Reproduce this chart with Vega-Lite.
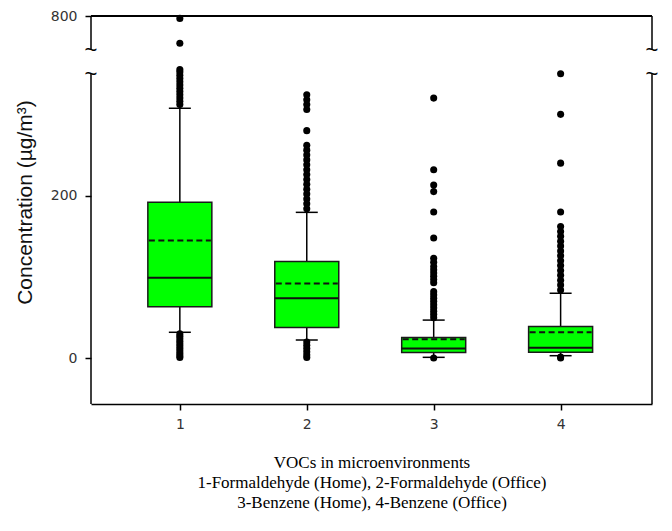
{
  "$schema": "https://vega.github.io/schema/vega-lite/v6.json",
  "width": 561,
  "height": 388,
  "padding": {"left": 14, "top": 9, "right": 10, "bottom": 10},
  "background": "white",
  "config": {"view": {"stroke": null}},
  "datasets": {
    "boxes": [
      {"g": 1, "lo": 32, "q1": 63.5, "med": 99, "mean": 145, "q3": 192, "hi": 307.5},
      {"g": 2, "lo": 22.5, "q1": 38, "med": 74, "mean": 92, "q3": 119, "hi": 179.5},
      {"g": 3, "lo": 1.2, "q1": 7, "med": 12, "mean": 23.5, "q3": 25.5, "hi": 47},
      {"g": 4, "lo": 3.2, "q1": 7.5, "med": 13, "mean": 32, "q3": 39, "hi": 80}
    ],
    "outliers": [
      {"g": 1, "v": 312}, {"g": 1, "v": 316}, {"g": 1, "v": 320}, {"g": 1, "v": 324}, {"g": 1, "v": 328}, {"g": 1, "v": 332}, {"g": 1, "v": 336}, {"g": 1, "v": 340}, {"g": 1, "v": 344}, {"g": 1, "v": 348}, {"g": 1, "v": 352}, {"g": 1, "v": 355}, {"g": 1, "v": 720}, {"g": 1, "v": 793},
      {"g": 1, "v": 30}, {"g": 1, "v": 27}, {"g": 1, "v": 24}, {"g": 1, "v": 21}, {"g": 1, "v": 18}, {"g": 1, "v": 15}, {"g": 1, "v": 12}, {"g": 1, "v": 9}, {"g": 1, "v": 6}, {"g": 1, "v": 3}, {"g": 1, "v": 1},
      {"g": 2, "v": 184}, {"g": 2, "v": 190}, {"g": 2, "v": 196}, {"g": 2, "v": 202}, {"g": 2, "v": 208}, {"g": 2, "v": 214}, {"g": 2, "v": 220}, {"g": 2, "v": 226}, {"g": 2, "v": 232}, {"g": 2, "v": 238}, {"g": 2, "v": 244}, {"g": 2, "v": 250}, {"g": 2, "v": 256}, {"g": 2, "v": 262}, {"g": 2, "v": 280}, {"g": 2, "v": 306}, {"g": 2, "v": 312}, {"g": 2, "v": 318}, {"g": 2, "v": 324},
      {"g": 2, "v": 20}, {"g": 2, "v": 16}, {"g": 2, "v": 12}, {"g": 2, "v": 8}, {"g": 2, "v": 4}, {"g": 2, "v": 1},
      {"g": 3, "v": 50}, {"g": 3, "v": 54}, {"g": 3, "v": 58}, {"g": 3, "v": 62}, {"g": 3, "v": 66}, {"g": 3, "v": 70}, {"g": 3, "v": 74}, {"g": 3, "v": 78}, {"g": 3, "v": 82},
      {"g": 3, "v": 93}, {"g": 3, "v": 97}, {"g": 3, "v": 101}, {"g": 3, "v": 105}, {"g": 3, "v": 109}, {"g": 3, "v": 113}, {"g": 3, "v": 118}, {"g": 3, "v": 123},
      {"g": 3, "v": 148}, {"g": 3, "v": 180}, {"g": 3, "v": 205}, {"g": 3, "v": 213}, {"g": 3, "v": 232}, {"g": 3, "v": 320}, {"g": 3, "v": 0.3},
      {"g": 4, "v": 84}, {"g": 4, "v": 90}, {"g": 4, "v": 96}, {"g": 4, "v": 102}, {"g": 4, "v": 108}, {"g": 4, "v": 114}, {"g": 4, "v": 120}, {"g": 4, "v": 126}, {"g": 4, "v": 132}, {"g": 4, "v": 138}, {"g": 4, "v": 144}, {"g": 4, "v": 150}, {"g": 4, "v": 156}, {"g": 4, "v": 162},
      {"g": 4, "v": 180}, {"g": 4, "v": 240}, {"g": 4, "v": 300}, {"g": 4, "v": 350}, {"g": 4, "v": 1.5}, {"g": 4, "v": 0.5}
    ]
  },
  "layer": [
    {
      "data": {"name": "boxes"},
      "mark": {"type": "rule", "stroke": "#000", "strokeWidth": 1.5},
      "encoding": {
        "x": {"field": "g", "type": "quantitative",
          "scale": {"domain": [0.3, 4.72], "nice": false, "zero": false},
          "axis": {
            "values": [1, 2, 3, 4], "format": "d", "grid": false, "labelAngle": 0,
            "title": ["VOCs in microenvironments", "1-Formaldehyde (Home), 2-Formaldehyde (Office)", "3-Benzene (Home), 4-Benzene (Office)"],
            "titleFont": "Liberation Serif", "titleFontSize": 17, "titleFontWeight": "normal", "titleColor": "#000",
            "titleLineHeight": 20, "titleBaseline": "top", "titleY": 50,
            "labelFont": "DejaVu Sans", "labelFontSize": 14, "labelColor": "#333", "labelPadding": 7,
            "tickSize": 6, "tickWidth": 1.5, "tickColor": "#000", "domainColor": "#000", "domainWidth": 1.5
          }
        },
        "y": {"field": "lo", "type": "quantitative",
          "scale": {"domain": [-56.2, 355.8, 700, 800], "range": [388, 53, 34, 0], "nice": false, "zero": false},
          "axis": {
            "values": [0, 200, 800], "domain": false, "grid": false,
            "title": "Concentration (µg/m³)", "titleFont": "Liberation Sans", "titleFontSize": 21, "titleFontWeight": "normal", "titleColor": "#111",
            "titleX": -60, "titleY": 186, "titleBaseline": "alphabetic", "titleAlign": "center",
            "labelFont": "DejaVu Sans", "labelFontSize": 14, "labelColor": "#333", "labelPadding": 8,
            "tickSize": 6, "tickWidth": 1.5, "tickColor": "#000"
          }
        },
        "y2": {"field": "q1"}
      }
    },
    {
      "data": {"name": "boxes"},
      "mark": {"type": "rule", "stroke": "#000", "strokeWidth": 1.5},
      "encoding": {
        "x": {"field": "g", "type": "quantitative"},
        "y": {"field": "q3", "type": "quantitative"},
        "y2": {"field": "hi"}
      }
    },
    {
      "data": {"name": "boxes"},
      "mark": {"type": "rule", "stroke": "#000", "strokeWidth": 1.5, "xOffset": -11, "x2Offset": 11},
      "encoding": {
        "x": {"field": "g", "type": "quantitative"},
        "x2": {"field": "g"},
        "y": {"field": "lo", "type": "quantitative"}
      }
    },
    {
      "data": {"name": "boxes"},
      "mark": {"type": "rule", "stroke": "#000", "strokeWidth": 1.5, "xOffset": -11, "x2Offset": 11},
      "encoding": {
        "x": {"field": "g", "type": "quantitative"},
        "x2": {"field": "g"},
        "y": {"field": "hi", "type": "quantitative"}
      }
    },
    {
      "data": {"name": "boxes"},
      "mark": {"type": "rect", "fill": "#00ff00", "stroke": "#1a1a1a", "strokeWidth": 1.5, "xOffset": -32, "x2Offset": 32},
      "encoding": {
        "x": {"field": "g", "type": "quantitative"},
        "x2": {"field": "g"},
        "y": {"field": "q1", "type": "quantitative"},
        "y2": {"field": "q3"}
      }
    },
    {
      "data": {"name": "boxes"},
      "mark": {"type": "rule", "stroke": "#111", "strokeWidth": 2, "xOffset": -32, "x2Offset": 32},
      "encoding": {
        "x": {"field": "g", "type": "quantitative"},
        "x2": {"field": "g"},
        "y": {"field": "med", "type": "quantitative"}
      }
    },
    {
      "data": {"name": "boxes"},
      "mark": {"type": "rule", "stroke": "#111", "strokeWidth": 2, "strokeDash": [6, 3.5], "xOffset": -31, "x2Offset": 31},
      "encoding": {
        "x": {"field": "g", "type": "quantitative"},
        "x2": {"field": "g"},
        "y": {"field": "mean", "type": "quantitative"}
      }
    },
    {
      "data": {"name": "outliers"},
      "mark": {"type": "circle", "color": "#000", "opacity": 1, "size": 50},
      "encoding": {
        "x": {"field": "g", "type": "quantitative"},
        "y": {"field": "v", "type": "quantitative"}
      }
    },
    {
      "data": {"values": [{}]},
      "mark": {"type": "rule", "stroke": "#000", "strokeWidth": 1.5},
      "encoding": {
        "x": {"datum": 0.3, "type": "quantitative"},
        "y": {"datum": -56.2, "type": "quantitative"},
        "y2": {"datum": 350}
      }
    },
    {
      "data": {"values": [{}]},
      "mark": {"type": "rule", "stroke": "#000", "strokeWidth": 1.5},
      "encoding": {
        "x": {"datum": 0.3, "type": "quantitative"},
        "y": {"datum": 700, "type": "quantitative"},
        "y2": {"datum": 800}
      }
    },
    {
      "data": {"values": [{}]},
      "mark": {"type": "rule", "stroke": "#000", "strokeWidth": 1.5},
      "encoding": {
        "x": {"datum": 4.72, "type": "quantitative"},
        "y": {"datum": -56.2, "type": "quantitative"},
        "y2": {"datum": 350}
      }
    },
    {
      "data": {"values": [{}]},
      "mark": {"type": "rule", "stroke": "#000", "strokeWidth": 1.5},
      "encoding": {
        "x": {"datum": 4.72, "type": "quantitative"},
        "y": {"datum": 700, "type": "quantitative"},
        "y2": {"datum": 800}
      }
    },
    {
      "data": {"values": [{}]},
      "mark": {"type": "rule", "stroke": "#000", "strokeWidth": 2},
      "encoding": {
        "x": {"datum": 0.3, "type": "quantitative"},
        "x2": {"datum": 4.72},
        "y": {"datum": 800, "type": "quantitative"}
      }
    },
    {
      "data": {"values": [
        {"xp": 0.3, "yp": 700}, {"xp": 0.3, "yp": 350}, {"xp": 4.72, "yp": 700}, {"xp": 4.72, "yp": 350}
      ]},
      "mark": {"type": "text", "text": "~", "font": "Liberation Sans", "fontSize": 22, "baseline": "middle", "align": "center", "color": "#000"},
      "encoding": {
        "x": {"field": "xp", "type": "quantitative"},
        "y": {"field": "yp", "type": "quantitative"}
      }
    }
  ]
}
